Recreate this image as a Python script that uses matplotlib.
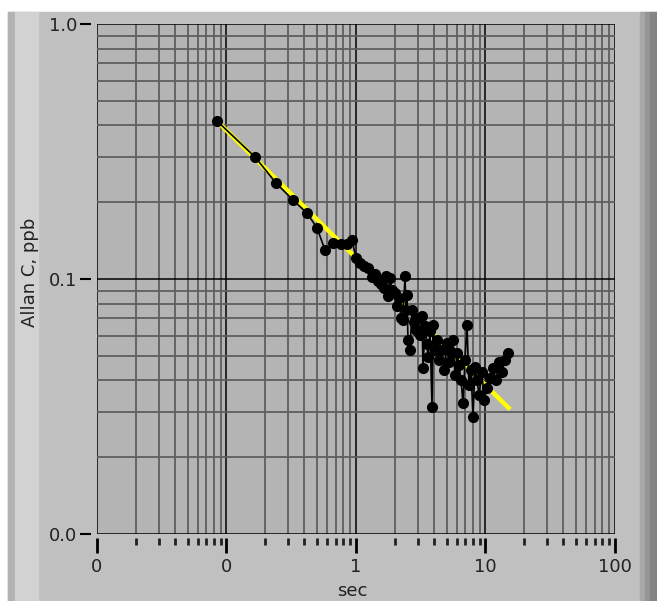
import matplotlib
matplotlib.use("Agg")
import matplotlib.pyplot as plt
from matplotlib.patches import Rectangle
from matplotlib.ticker import FixedLocator, LogLocator, FormatStrFormatter, NullFormatter

# Allan deviation data (tau in sec, Allan C in ppb)
tau = [0.0845, 0.166, 0.241, 0.326, 0.418, 0.500, 0.576, 0.665, 0.766, 0.852,
       0.931, 1.00, 1.074, 1.153, 1.238, 1.329, 1.402, 1.479, 1.560, 1.645,
       1.705, 1.767, 1.830, 1.897, 2.001, 2.073, 2.148, 2.226, 2.306, 2.390,
       2.433, 2.476, 2.520, 2.612, 2.706, 2.805, 2.906, 3.011, 3.120, 3.234,
       3.291, 3.410, 3.534, 3.597, 3.727, 3.863, 3.932, 4.074, 4.222, 4.375,
       4.533, 4.781, 5.043, 5.225, 5.414, 5.610, 5.814, 6.025, 6.243, 6.469,
       6.704, 6.946, 7.197, 7.458, 7.727, 8.008, 8.297, 8.599, 8.910, 9.397,
       9.737, 10.27, 10.83, 11.43, 12.05, 12.71, 13.41, 14.14, 14.92]
allan = [0.4165, 0.301, 0.238, 0.204, 0.1815, 0.1585, 0.130, 0.138, 0.137, 0.137,
         0.142, 0.121, 0.1155, 0.1124, 0.110, 0.1018, 0.1046, 0.0982, 0.0956, 0.0922,
         0.1027, 0.0858, 0.1009, 0.0906, 0.0882, 0.0784, 0.0842, 0.0703, 0.0691, 0.1027,
         0.0756, 0.0866, 0.0576, 0.0527, 0.0756, 0.0678, 0.0631, 0.0703, 0.0603, 0.0716,
         0.0448, 0.0654, 0.0556, 0.0494, 0.0625, 0.0315, 0.0660, 0.0527, 0.0576, 0.0481,
         0.0527, 0.0440, 0.0561, 0.0473, 0.0517, 0.0576, 0.0420, 0.0513, 0.0460, 0.0402,
         0.0326, 0.0481, 0.0660, 0.0384, 0.0440, 0.0288, 0.0452, 0.0402, 0.0351, 0.0432,
         0.0335, 0.0374, 0.0409, 0.0448, 0.0402, 0.0473, 0.0432, 0.0481, 0.0513]

# white-noise fit (yellow)
fit_tau = [0.0845, 0.3, 1.0, 3.0, 10.0, 15.5]
fit_allan = [0.4165, 0.221, 0.121, 0.0699, 0.0383, 0.0308]

x_ticks = [0.01, 0.1, 1, 10, 100]
y_ticks = [0.01, 0.1, 1.0]

W, H = 657, 601
fig = plt.figure(figsize=(W / 100, H / 100), dpi=100, facecolor="white")


def px_rect(x0, y0, x1, y1, color):
    # rectangle given in pixel coords (top-left origin)
    fig.patches.append(Rectangle((x0 / W, 1 - y1 / H), (x1 - x0) / W, (y1 - y0) / H,
                                 transform=fig.transFigure, color=color, zorder=-10))


# LabVIEW style panel
px_rect(8, 12, 657, 601, "#c0c0c0")
px_rect(8, 12, 15, 601, "#b2b2b2")
px_rect(15, 12, 38, 601, "#d2d2d2")
px_rect(640, 12, 645, 601, "#a8a8a8")
px_rect(645, 12, 650, 601, "#969696")
px_rect(650, 12, 657, 601, "#858585")

ax = fig.add_axes([97 / W, 1 - 534 / H, (615 - 97) / W, (534 - 24) / H])
ax.set_facecolor("#b4b4b4")
ax.set_xscale("log")
ax.set_yscale("log")
ax.set_xlim(0.01, 100)
ax.set_ylim(0.01, 1.0)

ax.xaxis.set_major_locator(FixedLocator(x_ticks))
ax.xaxis.set_minor_locator(LogLocator(base=10, subs=range(2, 10)))
ax.yaxis.set_major_locator(FixedLocator(y_ticks))
ax.yaxis.set_minor_locator(LogLocator(base=10, subs=range(2, 10)))
ax.xaxis.set_major_formatter(FormatStrFormatter("%.0f"))
ax.yaxis.set_major_formatter(FormatStrFormatter("%.1f"))
ax.xaxis.set_minor_formatter(NullFormatter())
ax.yaxis.set_minor_formatter(NullFormatter())

ax.grid(which="minor", color="#5e5e5e", linewidth=1.3)
ax.grid(which="major", color="black", linewidth=1.1)
ax.set_axisbelow(True)

for s in ax.spines.values():
    s.set_visible(False)
ax.spines["left"].set_position(("outward", 4))
ax.spines["bottom"].set_position(("outward", 3))

ax.tick_params(axis="y", which="major", length=8, width=1.5, color="black",
               labelsize=13, pad=2, labelcolor="#222222")
ax.tick_params(axis="y", which="minor", length=0)
ax.tick_params(axis="x", which="major", length=11, width=2, color="black",
               labelsize=13, pad=3, labelcolor="#222222")
ax.tick_params(axis="x", which="minor", length=5, width=2, color="#202020")

ax.plot(fit_tau, fit_allan, color="#ffff00", linewidth=3.2, solid_capstyle="butt", zorder=2)
ax.plot(tau, allan, color="black", linewidth=1.2, marker="o", markersize=7,
        markerfacecolor="black", markeredgecolor="black", zorder=3)

fig.text(30 / W, 1 - 272 / H, "Allan C, ppb", rotation=90, ha="center", va="center",
         fontsize=13, color="#222222")
fig.text(352 / W, 1 - 591 / H, "sec", ha="center", va="center", fontsize=13, color="#222222")

fig.savefig("out.png", dpi=100, facecolor=fig.get_facecolor())
